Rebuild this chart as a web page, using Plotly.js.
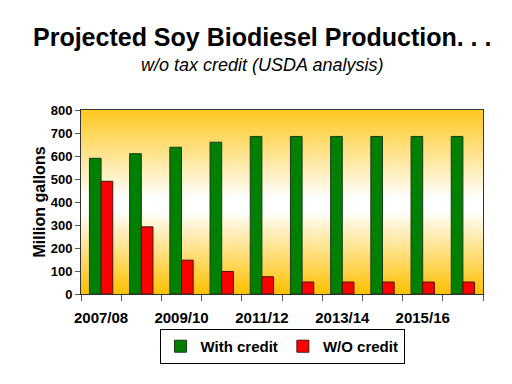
<!DOCTYPE html>
<html>
<head>
<meta charset="utf-8">
<script src="https://cdn.plot.ly/plotly-3.0.1.min.js"></script>
<style>html,body{margin:0;padding:0;background:#fff;}#chart{width:512px;height:384px;}</style>
</head>
<body>
<div id="chart"></div>
<script>
const categories = ['2007/08','2008/09','2009/10','2010/11','2011/12','2012/13','2013/14','2014/15','2015/16','2016/17'];
const tickLabels = ['2007/08','','2009/10','','2011/12','','2013/14','','2015/16',''];
const withCredit = [590, 610, 638, 660, 685, 685, 685, 685, 685, 685];
const withoutCredit = [490, 292, 147, 98, 75, 52, 52, 52, 52, 52];

const bgSvg = '<svg xmlns="http://www.w3.org/2000/svg" width="100" height="100" preserveAspectRatio="none">' +
  '<defs><linearGradient id="g" x1="0" y1="0" x2="0" y2="1">' +
  '<stop offset="0" stop-color="#FFC81E"/>' +
  '<stop offset="0.48" stop-color="#FFFFFF"/>' +
  '<stop offset="0.55" stop-color="#FFFFFF"/>' +
  '<stop offset="1" stop-color="#FFC000"/>' +
  '</linearGradient></defs><rect width="100" height="100" fill="url(#g)"/></svg>';
const bgUri = 'data:image/svg+xml;base64,' + btoa(bgSvg);

const bold = {family: 'Arial, "Liberation Sans", sans-serif', color: '#000', weight: 700};

const traces = [
  {type: 'bar', name: 'With credit', x: categories, y: withCredit,
   marker: {color: '#008000', line: {color: '#1a3a1a', width: 1}}},
  {type: 'bar', name: 'W/O credit', x: categories, y: withoutCredit,
   marker: {color: '#FF0000', line: {color: '#4a1010', width: 1}}}
];

const layout = {
  width: 512, height: 384,
  margin: {l: 81, r: 29, t: 110, b: 90},
  paper_bgcolor: '#fff',
  plot_bgcolor: 'rgba(0,0,0,0)',
  barmode: 'group',
  bargap: 0.42,
  bargroupgap: 0,
  showlegend: true,
  images: [{source: bgUri, xref: 'paper', yref: 'paper', x: 0, y: 1, sizex: 1, sizey: 1,
            sizing: 'stretch', layer: 'below', xanchor: 'left', yanchor: 'top'}],
  annotations: [
    {text: 'Projected Soy Biodiesel Production. . .', xref: 'paper', yref: 'paper',
     x: 0.45, y: 1, xanchor: 'center', yanchor: 'bottom', yshift: 57, showarrow: false,
     font: Object.assign({}, bold, {size: 25})},
    {text: '<i>w/o tax credit (USDA analysis)</i>', xref: 'paper', yref: 'paper',
     x: 0.45, y: 1, xanchor: 'center', yanchor: 'bottom', yshift: 33, showarrow: false,
     font: {family: 'Arial, "Liberation Sans", sans-serif', color: '#000', size: 18, style: 'italic'}}
  ],
  xaxis: {
    type: 'category',
    tickmode: 'array', tickvals: categories, ticktext: tickLabels,
    tickson: 'boundaries', ticks: 'outside', ticklen: 6, tickcolor: '#555', tickwidth: 1,
    ticklabelstandoff: 10,
    showline: true, linecolor: '#333', linewidth: 1, mirror: true,
    showgrid: false, tickangle: 0,
    tickfont: Object.assign({}, bold, {size: 15}),
    range: [-0.5, 9.5]
  },
  yaxis: {
    range: [0, 800], dtick: 100, tick0: 0,
    ticks: 'outside', ticklen: 5, tickcolor: '#555',
    showline: true, linecolor: '#333', linewidth: 1, mirror: true,
    showgrid: false, zeroline: false,
    tickfont: Object.assign({}, bold, {size: 13}),
    title: {text: 'Million gallons', font: Object.assign({}, bold, {size: 16}), standoff: 1}
  },
  legend: {
    orientation: 'h', x: 0.5, xanchor: 'center', y: -0.19, yanchor: 'top',
    bordercolor: '#000', borderwidth: 1, bgcolor: '#fff',
    font: Object.assign({}, bold, {size: 15}),
    itemwidth: 30, tracegroupgap: 0
  }
};

Plotly.newPlot('chart', traces, layout, {displayModeBar: false, staticPlot: true});
</script>
</body>
</html>
